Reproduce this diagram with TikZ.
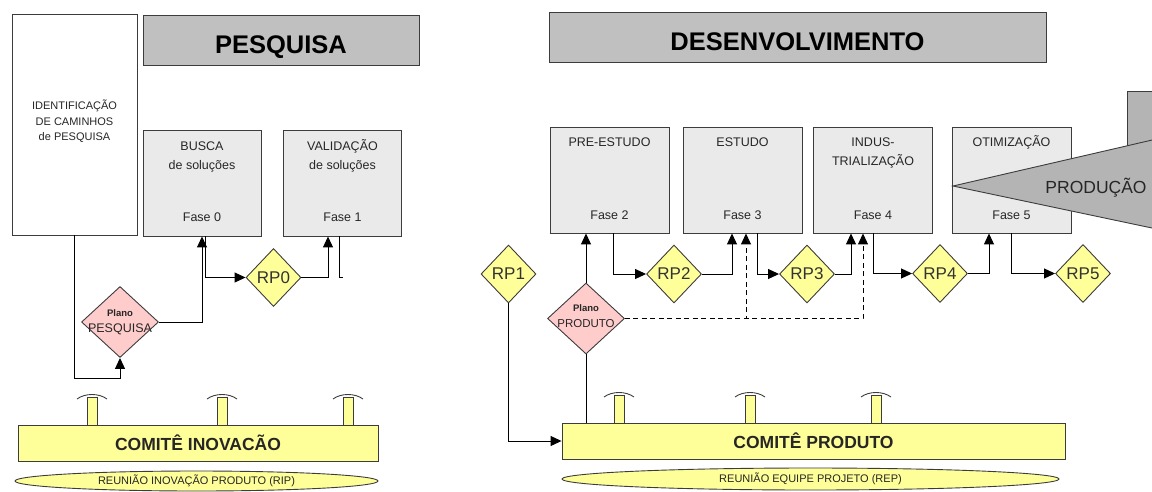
\documentclass[tikz,border=0pt]{standalone}
\usepackage{fontspec}
\setmainfont{Liberation Sans}
\usetikzlibrary{arrows.meta, positioning, shapes.geometric, calc}
\definecolor{pdgray}{RGB}{192,192,192}
\definecolor{pdbox}{RGB}{234,234,234}
\definecolor{pdyellow}{RGB}{255,255,153}
\definecolor{pdpink}{RGB}{255,204,204}
\definecolor{pdtri}{RGB}{180,180,180}
\definecolor{pdline}{RGB}{60,60,60}

\begin{document}
\begin{tikzpicture}[x=1pt, y=-1pt, line width=0.9pt,
  header/.style={draw=pdline, fill=pdgray, minimum height=50pt, inner sep=0pt, text height=26pt, text depth=0pt, font=\fontsize{25.5}{28}\selectfont\bfseries},
  phase/.style={draw=pdline, fill=pdbox, minimum width=119pt, minimum height=106pt, inner sep=0pt},
  phasetxt/.style={inner sep=0pt, align=center, font=\fontsize{12.5}{18.5}\selectfont, text=black!85},
  rp/.style={diamond, draw=pdline, fill=pdyellow, minimum width=55pt, minimum height=58pt, inner sep=0pt, font=\fontsize{17}{17}\selectfont, text=black!80},
  plan/.style={diamond, draw=pdline, fill=pdpink, minimum width=77pt, minimum height=71pt, inner sep=0pt},
  plantxt/.style={inner sep=0pt, align=center, font=\fontsize{11.5}{16}\selectfont, text=black!85},
  comite/.style={draw=pdline, fill=pdyellow, minimum height=36pt, inner sep=0pt, font=\fontsize{17.5}{20}\selectfont\bfseries, text=black!85},
  reuniao/.style={ellipse, draw=pdline, fill=pdyellow, inner sep=0pt, font=\fontsize{11}{12}\selectfont, text=black!85},
  arr/.style={-{Triangle[length=11pt, width=10pt]}, black, line width=1pt}
]
\useasboundingbox (0,0) rectangle (1152,491);

% Headers
\node[header, minimum width=276pt] (pesq) at (281,40) {PESQUISA};
\node[header, minimum width=497pt] (desenv) at (797.5,37) {DESENVOLVIMENTO};

% Research paths
\node[draw=pdline, fill=white, minimum width=125pt, minimum height=221pt, inner sep=0pt] (ident) at (74.5,124.5) {};
\node[phasetxt, anchor=north, font=\fontsize{11}{15.5}\selectfont] (identtxt) at ($(ident.north)+(0,86)$) {IDENTIFICAÇÃO\\DE CAMINHOS\\de PESQUISA};

% Research phases
\foreach \n/\x/\t/\f in {b0/202/{BUSCA\\de soluções}/0, b1/342.5/{VALIDAÇÃO\\de soluções}/1}{
  \node[phase, minimum width=118pt] (\n) at (\x,183) {};
  \node[phasetxt, anchor=north] (\n-t) at ($(\n.north)+(0,9.8)$) {\vphantom{Ã}\t};
  \node[phasetxt, anchor=base] (\n-f) at ($(\n.south)+(0,-14.5)$) {Fase \f};
}

% Development phases
\foreach \n/\x/\t/\f in {p2/609.5/PRE-ESTUDO/2, p3/742.5/ESTUDO/3, p4/873/{INDUS-\\TRIALIZAÇÃO}/4, p5/1011.5/OTIMIZAÇÃO/5}{
  \node[phase] (\n) at (\x,180) {};
  \node[phasetxt, anchor=north] (\n-t) at ($(\n.north)+(0,8.8)$) {\vphantom{Ã}\t};
  \node[phasetxt, anchor=base] (\n-f) at ($(\n.south)+(0,-13.5)$) {Fase \f};
}

% Production wedge
\fill[pdtri] (1127,91) rectangle (1160,200);
\draw[pdline] (1160,91) -- (1127,91) -- (1127,200);
\fill[pdtri] (953,186) -- (1160,138.2) -- (1160,229.7) -- cycle;
\draw[pdline] (1160,138.2) -- (953,186) -- (1160,229.7);
\node[font=\fontsize{17.5}{20}\selectfont, text=black!85] (prod) at (1096,188) {PRODUÇÃO};

% Decision points
\node[rp] (rp0) at (273.5,277.5) {RP0};
\node[rp] (rp1) at (508.5,274) {RP1};
\node[rp] (rp2) at (674,274) {RP2};
\node[rp] (rp3) at (807,274) {RP3};
\node[rp] (rp4) at (940,273.5) {RP4};
\node[rp] (rp5) at (1083,273.5) {RP5};

% Plans
\node[plan] (plan1) at (120,322) {};
\node[plantxt, font=\fontsize{12.5}{16}\selectfont] (plan1txt) at (plan1.center) {{\fontsize{9.5}{10}\selectfont\bfseries Plano}\\PESQUISA};
\node[plan] (plan2) at (586,318.5) {};
\node[plantxt] (plan2txt) at ($(plan2.center)+(0,-2)$) {{\fontsize{9.5}{10}\selectfont\bfseries Plano}\\PRODUTO};

% Pegs
\foreach \x in {92,222,348}{
  \draw[pdline, fill=pdyellow] ({\x-5},397) rectangle ({\x+5},425);
  \draw[pdline] ({\x-15},399) .. controls ({\x-7},393) and ({\x+7},393) .. ({\x+15},399);
}
\foreach \x in {619,750,876}{
  \draw[pdline, fill=pdyellow] ({\x-5},395) rectangle ({\x+5},423);
  \draw[pdline] ({\x-15},397) .. controls ({\x-7},391) and ({\x+7},391) .. ({\x+15},397);
}

% Committees and meetings
\node[comite, minimum width=360pt] (ci) at (198,443) {COMITÊ INOVACÃO};
\node[comite, minimum width=503pt] (cp) at (813.5,441) {COMITÊ PRODUTO};
\node[reuniao, minimum width=363pt, minimum height=20pt] (rip) at (196.5,481) {REUNIÃO INOVAÇÃO PRODUTO (RIP)};
\node[reuniao, minimum width=497pt, minimum height=22pt] (rep) at (810.5,479) {REUNIÃO EQUIPE PROJETO (REP)};

% Research connectors
\draw[arr] (ident.south) -- ++(0,143) -| (plan1.south);
\draw[arr] (plan1.east) -| (b0.south);
\draw[arr] ($(b0.south)+(3,0)$) |- (rp0.west);
\draw[arr] (rp0.east) -| ($(b1.south)+(-14.5,0)$);
\draw[black, line width=1pt] ($(b1.south)+(-3.5,0)$) -- ++(0,41) -- ++(4,0);

% Development connectors
\draw[arr] (rp1.south) |- (cp.west);
\draw[arr] (plan2.north) -- (plan2.north |- p2.south);
\draw[black, line width=1pt] (plan2.south) -- (plan2.south |- cp.north);
\draw[arr] ($(p2.south)+(3.5,0)$) |- (rp2.west);
\draw[arr] (rp2.east) -| ($(p3.south)+(-10.5,0)$);
\draw[arr] ($(p3.south)+(14.5,0)$) |- (rp3.west);
\draw[arr] (rp3.east) -| ($(p4.south)+(-22,0)$);
\draw[arr] (p4.south) |- (rp4.west);
\draw[arr] (rp4.east) -| ($(p5.south)+(-22.5,0)$);
\draw[arr] (p5.south) |- (rp5.west);
\draw[arr, dash pattern=on 5pt off 3.5pt] (plan2.east) -| ($(p3.south)+(3.5,0)$);
\draw[arr, dash pattern=on 5pt off 3.5pt] (plan2.east) -| ($(p4.south)+(-10,0)$);

\end{tikzpicture}
\end{document}
